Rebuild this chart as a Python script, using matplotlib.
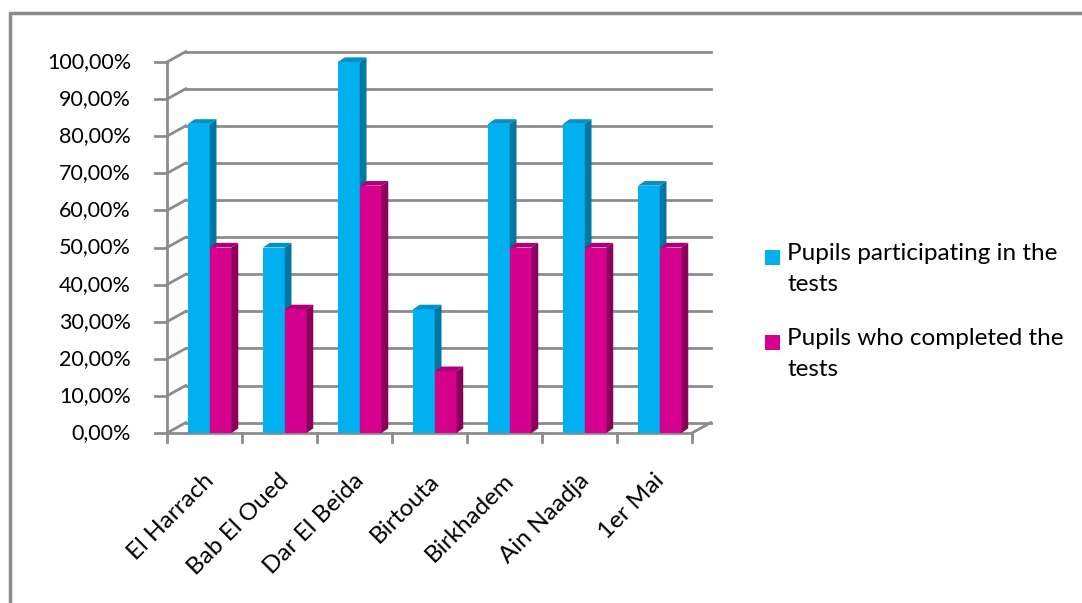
import matplotlib.pyplot as plt
from matplotlib.patches import Polygon, Rectangle
from matplotlib.lines import Line2D

categories = ['El Harrach', 'Bab El Oued', 'Dar El Beida', 'Birtouta',
              'Birkhadem', 'Ain Naadja', '1er Mai']
participating = [83.33, 50.00, 100.00, 33.33, 83.33, 83.33, 66.67]
completed = [50.00, 33.33, 66.67, 16.67, 50.00, 50.00, 50.00]
series_names = ['Pupils participating in the\ntests',
                'Pupils who completed the\ntests']
yticks = list(range(0, 101, 10))
ytick_labels = ['%d,00%%' % v for v in yticks]

plt.rcParams['font.family'] = ['Lato', 'DejaVu Sans']

W, H = 1082, 603
fig = plt.figure(figsize=(W / 100, H / 100), dpi=100)
# front plane of the 3d box
ax = fig.add_axes([167 / W, (H - 433) / H, 525 / W, 371 / H])
n = len(categories)
ax.set_xlim(0, n)
ax.set_ylim(0, 100)
ax.axis('off')

grid_c = '#8c8c8c'
wall_dx, wall_dy = 0.25, 2.8   # back wall offset (data units)
bar_dx, bar_dy = 0.09, 1.25    # bar depth offset

# back wall gridlines + left side wall diagonals
for v in yticks:
    ax.plot([wall_dx, n + wall_dx], [v + wall_dy, v + wall_dy], color=grid_c,
            lw=2, clip_on=False, zorder=1)
    ax.plot([0, wall_dx], [v, v + wall_dy], color=grid_c, lw=2, clip_on=False, zorder=1)
# floor front edge and right diagonal
ax.plot([0, n], [0, 0], color=grid_c, lw=2, clip_on=False, zorder=1)
ax.plot([n, n + wall_dx], [0, wall_dy], color=grid_c, lw=2, clip_on=False, zorder=1)
# y axis line
ax.plot([0, 0], [0, 100], color=grid_c, lw=2, clip_on=False, zorder=1)

# ticks and tick labels
for v, lab in zip(yticks, ytick_labels):
    ax.add_line(Line2D([-0.16, 0], [v, v], color=grid_c, lw=2, clip_on=False))
    ax.text(-0.48, v, lab, ha='right', va='center', fontsize=15.5, color='black')
for i in range(n + 1):
    ax.add_line(Line2D([i, i], [0, -2.3], color=grid_c, lw=2, clip_on=False))
for i, cat in enumerate(categories):
    ax.text(i + 0.48, -10.0, cat, rotation=45, ha='right', va='top',
            rotation_mode='anchor', fontsize=17.5, color='black')


def bar3d(x0, w, h, front, top, side):
    ax.add_patch(Polygon([(x0, 0), (x0 + w, 0), (x0 + w, h), (x0, h)],
                         closed=True, fc=front, ec='none', zorder=3, clip_on=False))
    ax.add_patch(Polygon([(x0, h), (x0 + w, h), (x0 + w + bar_dx, h + bar_dy),
                          (x0 + bar_dx, h + bar_dy)],
                         closed=True, fc=top, ec='none', zorder=3, clip_on=False))
    ax.add_patch(Polygon([(x0 + w, 0), (x0 + w + bar_dx, bar_dy),
                          (x0 + w + bar_dx, h + bar_dy), (x0 + w, h)],
                         closed=True, fc=side, ec='none', zorder=3, clip_on=False))


bw = 0.29
blue = ('#00b0f0', '#0092c8', '#0076a3')
mag = ('#d6008f', '#b00078', '#8a005c')
for i in range(n):
    bar3d(i + 0.28, bw, participating[i], *blue)
    bar3d(i + 0.28 + bw, bw, completed[i], *mag)

# legend drawn by hand so the swatch sits on the first text line
for k, (name, col) in enumerate(zip(series_names, [blue[0], mag[0]])):
    top_px = 243 + k * 85
    fig.add_artist(Rectangle((765 / W, 1 - (top_px + 22) / H), 15 / W, 15 / H,
                             transform=fig.transFigure, fc=col, ec='none'))
    fig.text(787 / W, 1 - top_px / H, name, ha='left', va='top',
             fontsize=17.5, linespacing=1.6, color='black')

# outer chart border (top and left visible)
fig.add_artist(Line2D([10 / W, 10 / W, 1.0], [0.0, 1 - 13 / H, 1 - 13 / H],
                      color='#8c8c8c', lw=2.5, transform=fig.transFigure))

fig.savefig('out.png', dpi=100)
